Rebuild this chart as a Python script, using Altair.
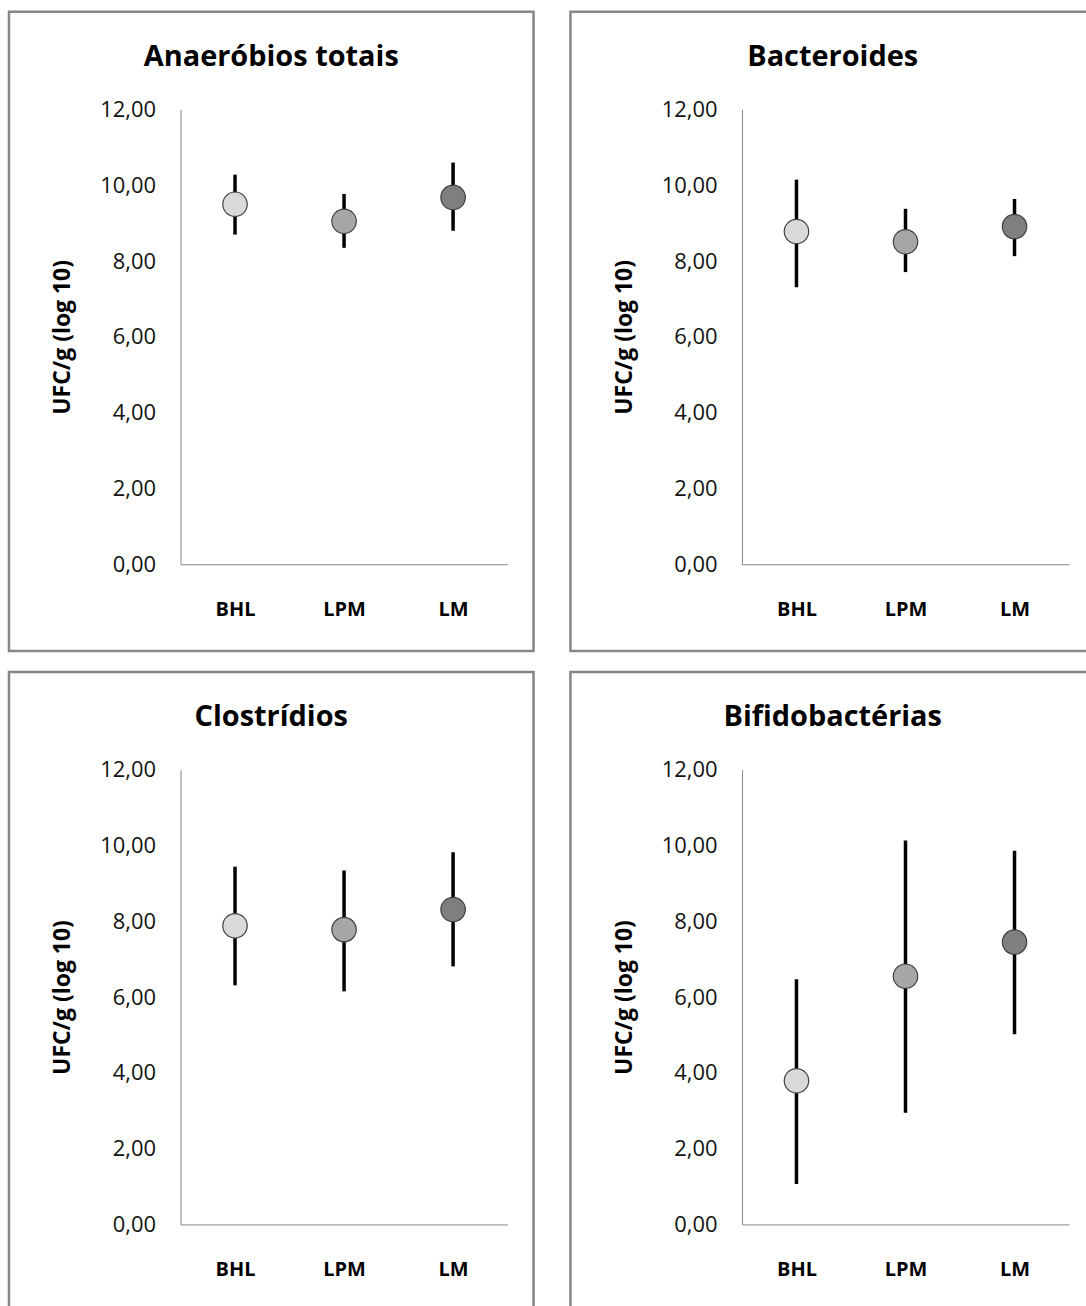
import altair as alt
import pandas as pd

categories = ["BHL", "LPM", "LM"]
colors = ["#d9d9d9", "#a6a6a6", "#7f7f7f"]

titles = ["Anaeróbios totais", "Bacteroides", "Clostrídios", "Bifidobactérias"]

anaerobios_mean = [9.50, 9.05, 9.68]
anaerobios_low = [8.70, 8.35, 8.80]
anaerobios_high = [10.28, 9.77, 10.60]

bacteroides_mean = [8.78, 8.51, 8.91]
bacteroides_low = [7.31, 7.71, 8.13]
bacteroides_high = [10.15, 9.38, 9.64]

clostridios_mean = [7.88, 7.78, 8.31]
clostridios_low = [6.31, 6.15, 6.81]
clostridios_high = [9.44, 9.34, 9.82]

bifido_mean = [3.79, 6.55, 7.45]
bifido_low = [1.07, 2.95, 5.02]
bifido_high = [6.47, 10.13, 9.86]

y_ticks = [0, 2, 4, 6, 8, 10, 12]

FONT = "Open Sans"
W, H = 328, 456
FX1, FX2, FY1, FY2 = -172, 354, -98, 543


def panel(title, mean, low, high):
    df = pd.DataFrame({"grupo": categories, "media": mean, "min": low, "max": high})
    xenc = alt.X(
        "grupo:N",
        sort=categories,
        scale=alt.Scale(type="point", padding=0.5),
        axis=alt.Axis(
            title=None, labelAngle=0, labelFont=FONT, labelFontWeight="bold",
            labelFontSize=20, labelColor="#000000", labelPadding=35, ticks=False,
            domainColor="#868686", domainWidth=1,
        ),
    )
    yscale = alt.Scale(domain=[0, 12], nice=False, zero=True)
    yaxis = alt.Axis(
        title="UFC/g (log 10)", values=y_ticks, grid=False, ticks=False,
        labelExpr="replace(format(datum.value, '.2f'), '.', ',')",
        labelFont=FONT, labelFontSize=22, labelColor="#111111", labelPadding=25,
        domainColor="#868686", domainWidth=1,
        titleFont=FONT, titleFontSize=23, titleFontWeight="bold", titleColor="#000000",
        titleAngle=270, titleX=-118, titleY=H / 2, titleAlign="center", titleBaseline="middle",
    )
    one = pd.DataFrame({"f": [0]})
    frame = alt.Chart(one).mark_rect(
        filled=False, stroke="#868686", strokeWidth=2.5
    ).encode(
        x=alt.value(FX1), x2=alt.value(FX2), y=alt.value(FY1), y2=alt.value(FY2)
    )
    head = alt.Chart(one).mark_text(
        font=FONT, fontSize=29, fontWeight="bold", color="#000000",
        align="center", baseline="alphabetic",
    ).encode(
        x=alt.value((FX1 + FX2) / 2), y=alt.value(FY1 + 54), text=alt.value(title)
    )
    bars = alt.Chart(df).mark_rule(color="black", strokeWidth=3.5).encode(
        x=xenc,
        y=alt.Y("min:Q", scale=yscale, axis=yaxis),
        y2="max:Q",
    )
    pts = alt.Chart(df).mark_point(
        filled=True, size=600, opacity=1, stroke="#404040", strokeWidth=1.2
    ).encode(
        x=xenc,
        y=alt.Y("media:Q", scale=yscale),
        fill=alt.Fill("grupo:N", scale=alt.Scale(domain=categories, range=colors), legend=None),
    )
    return alt.layer(frame, head, bars, pts).properties(width=W, height=H)


p1 = panel(titles[0], anaerobios_mean, anaerobios_low, anaerobios_high)
p2 = panel(titles[1], bacteroides_mean, bacteroides_low, bacteroides_high)
p3 = panel(titles[2], clostridios_mean, clostridios_low, clostridios_high)
p4 = panel(titles[3], bifido_mean, bifido_low, bifido_high)

chart = alt.vconcat(
    alt.hconcat(p1, p2, spacing=33),
    alt.hconcat(p3, p4, spacing=33),
    spacing=17,
).properties(
    padding={"left": 7, "top": 8, "right": -11, "bottom": -6},
    background="white",
).configure_view(stroke=None)

chart.save("out.html", embed_options={"renderer": "svg", "actions": False})
